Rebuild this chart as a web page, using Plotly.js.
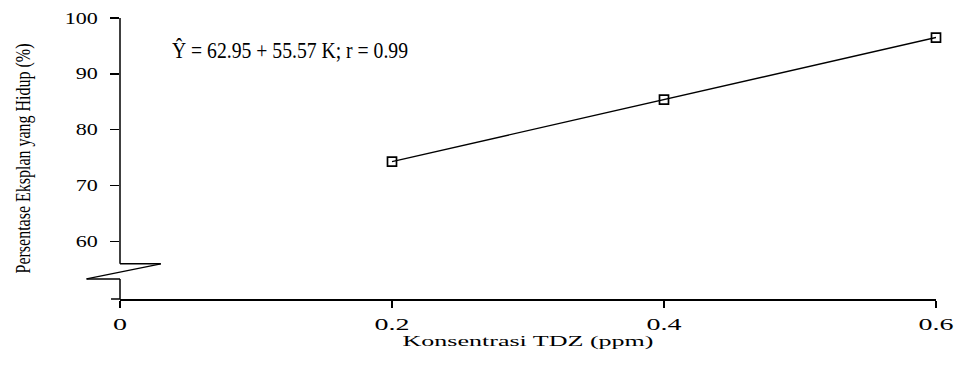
<!DOCTYPE html>
<html>
<head>
<meta charset="utf-8">
<script src="https://cdn.plot.ly/plotly-3.0.1.min.js"></script>
<style>
  html, body { margin: 0; padding: 0; background: #ffffff; }
  #chart { width: 958px; height: 368px; }
</style>
</head>
<body>
<div id="chart"></div>
<script>
// ---- data ----
const concentrations = [0.2, 0.4, 0.6];          // TDZ (ppm)
const survival = [74.3, 85.4, 96.5];             // % explants alive
const xTickVals = [0, 0.2, 0.4, 0.6];
const xTickText = ['0', '0.2', '0.4', '0.6'];
const yTickVals = [60, 70, 80, 90, 100];
const yTickText = ['60', '70', '80', '90', '100'];
const equationText = 'Ŷ = 62.95 + 55.57 K; r = 0.99';
const xTitle = 'Konsentrasi TDZ (ppm)';
const yTitle = 'Persentase Eksplan yang Hidup (%)';

// ---- axis geometry ----
const Y_MIN = 49.7, Y_MAX = 100;
const BREAK_TOP = 56.0, BREAK_BOTTOM = 53.3;
const py = v => (v - Y_MIN) / (Y_MAX - Y_MIN);   // value -> paper
const SERIF = 'Liberation Serif, Times New Roman, serif';

const trace = {
  x: concentrations,
  y: survival,
  type: 'scatter',
  mode: 'lines+markers',
  line: { color: '#000', width: 1.4 },
  marker: { symbol: 'square-open', size: 9, color: '#000', line: { width: 1.7, color: '#000' } },
  cliponaxis: false,
  hoverinfo: 'skip'
};

const axLine = { color: '#000', width: 1.5 };
const shapes = [
  // upper y-axis segment
  { type: 'line', xref: 'paper', yref: 'paper', x0: 0, x1: 0, y0: py(BREAK_TOP), y1: 1, line: axLine },
  // break symbol
  { type: 'line', xref: 'paper', yref: 'paper', x0: 0, x1: 0.05, y0: py(BREAK_TOP), y1: py(BREAK_TOP), line: axLine },
  { type: 'line', xref: 'paper', yref: 'paper', x0: 0.05, x1: -0.041, y0: py(BREAK_TOP), y1: py(BREAK_BOTTOM), line: { color: '#000', width: 1.3 } },
  { type: 'line', xref: 'paper', yref: 'paper', x0: -0.041, x1: 0, y0: py(BREAK_BOTTOM), y1: py(BREAK_BOTTOM), line: axLine },
  // lower y-axis segment
  { type: 'line', xref: 'paper', yref: 'paper', x0: 0, x1: 0, y0: 0, y1: py(BREAK_BOTTOM), line: axLine },
  // small left extension of the x-axis line (tick at the axis base)
  { type: 'line', xref: 'paper', yref: 'paper', x0: -0.011, x1: 0, y0: 0, y1: 0, line: axLine }
];

const layout = {
  width: 958,
  height: 368,
  margin: { l: 120, r: 22, t: 18, b: 69 },
  paper_bgcolor: '#fff',
  plot_bgcolor: '#fff',
  showlegend: false,
  font: { family: SERIF, color: '#000' },
  xaxis: {
    range: [0, 0.6],
    tickvals: xTickVals,
    ticktext: xTickText,
    ticks: 'outside',
    ticklen: 7,
    tickwidth: 1.3,
    tickcolor: '#000',
    showline: true,
    linecolor: '#000',
    linewidth: 1.5,
    showgrid: false,
    zeroline: false,
    ticklabelstandoff: 3,
    tickfont: { family: SERIF, size: 16, color: '#000' },
    title: { text: xTitle, font: { family: SERIF, size: 15.5, color: '#000' }, standoff: 3 },
    automargin: false
  },
  yaxis: {
    range: [Y_MIN, Y_MAX],
    tickvals: yTickVals,
    ticktext: yTickText,
    ticks: 'outside',
    ticklen: 9,
    tickwidth: 1.3,
    tickcolor: '#000',
    showline: false,
    showgrid: false,
    zeroline: false,
    ticklabelstandoff: 9,
    tickfont: { family: SERIF, size: 16, color: '#000' },
    title: { text: yTitle, font: { family: SERIF, size: 21, color: '#000' }, standoff: 37 },
    automargin: false
  },
  shapes: shapes,
  annotations: [{
    text: equationText,
    xref: 'paper', yref: 'paper',
    x: 0.2083, y: 0.883,
    xanchor: 'center', yanchor: 'middle',
    showarrow: false,
    font: { family: SERIF, size: 23, color: '#000' }
  }]
};

function stretchText(selector, factor, fixedLen) {
  document.querySelectorAll(selector).forEach(t => {
    const w = t.getComputedTextLength();
    t.setAttribute('textLength', fixedLen ? fixedLen : w * factor);
    t.setAttribute('lengthAdjust', 'spacingAndGlyphs');
  });
}

Plotly.newPlot('chart', [trace], layout, { staticPlot: true, displayModeBar: false }).then(() => {
  stretchText('.xtick text', 1.75);
  stretchText('.ytick text', 1.38);
  stretchText('.g-xtitle text', 0, 251);
  stretchText('.g-ytitle text', 0, 230);
  stretchText('.annotation-text', 0, 236);
});
</script>
</body>
</html>
